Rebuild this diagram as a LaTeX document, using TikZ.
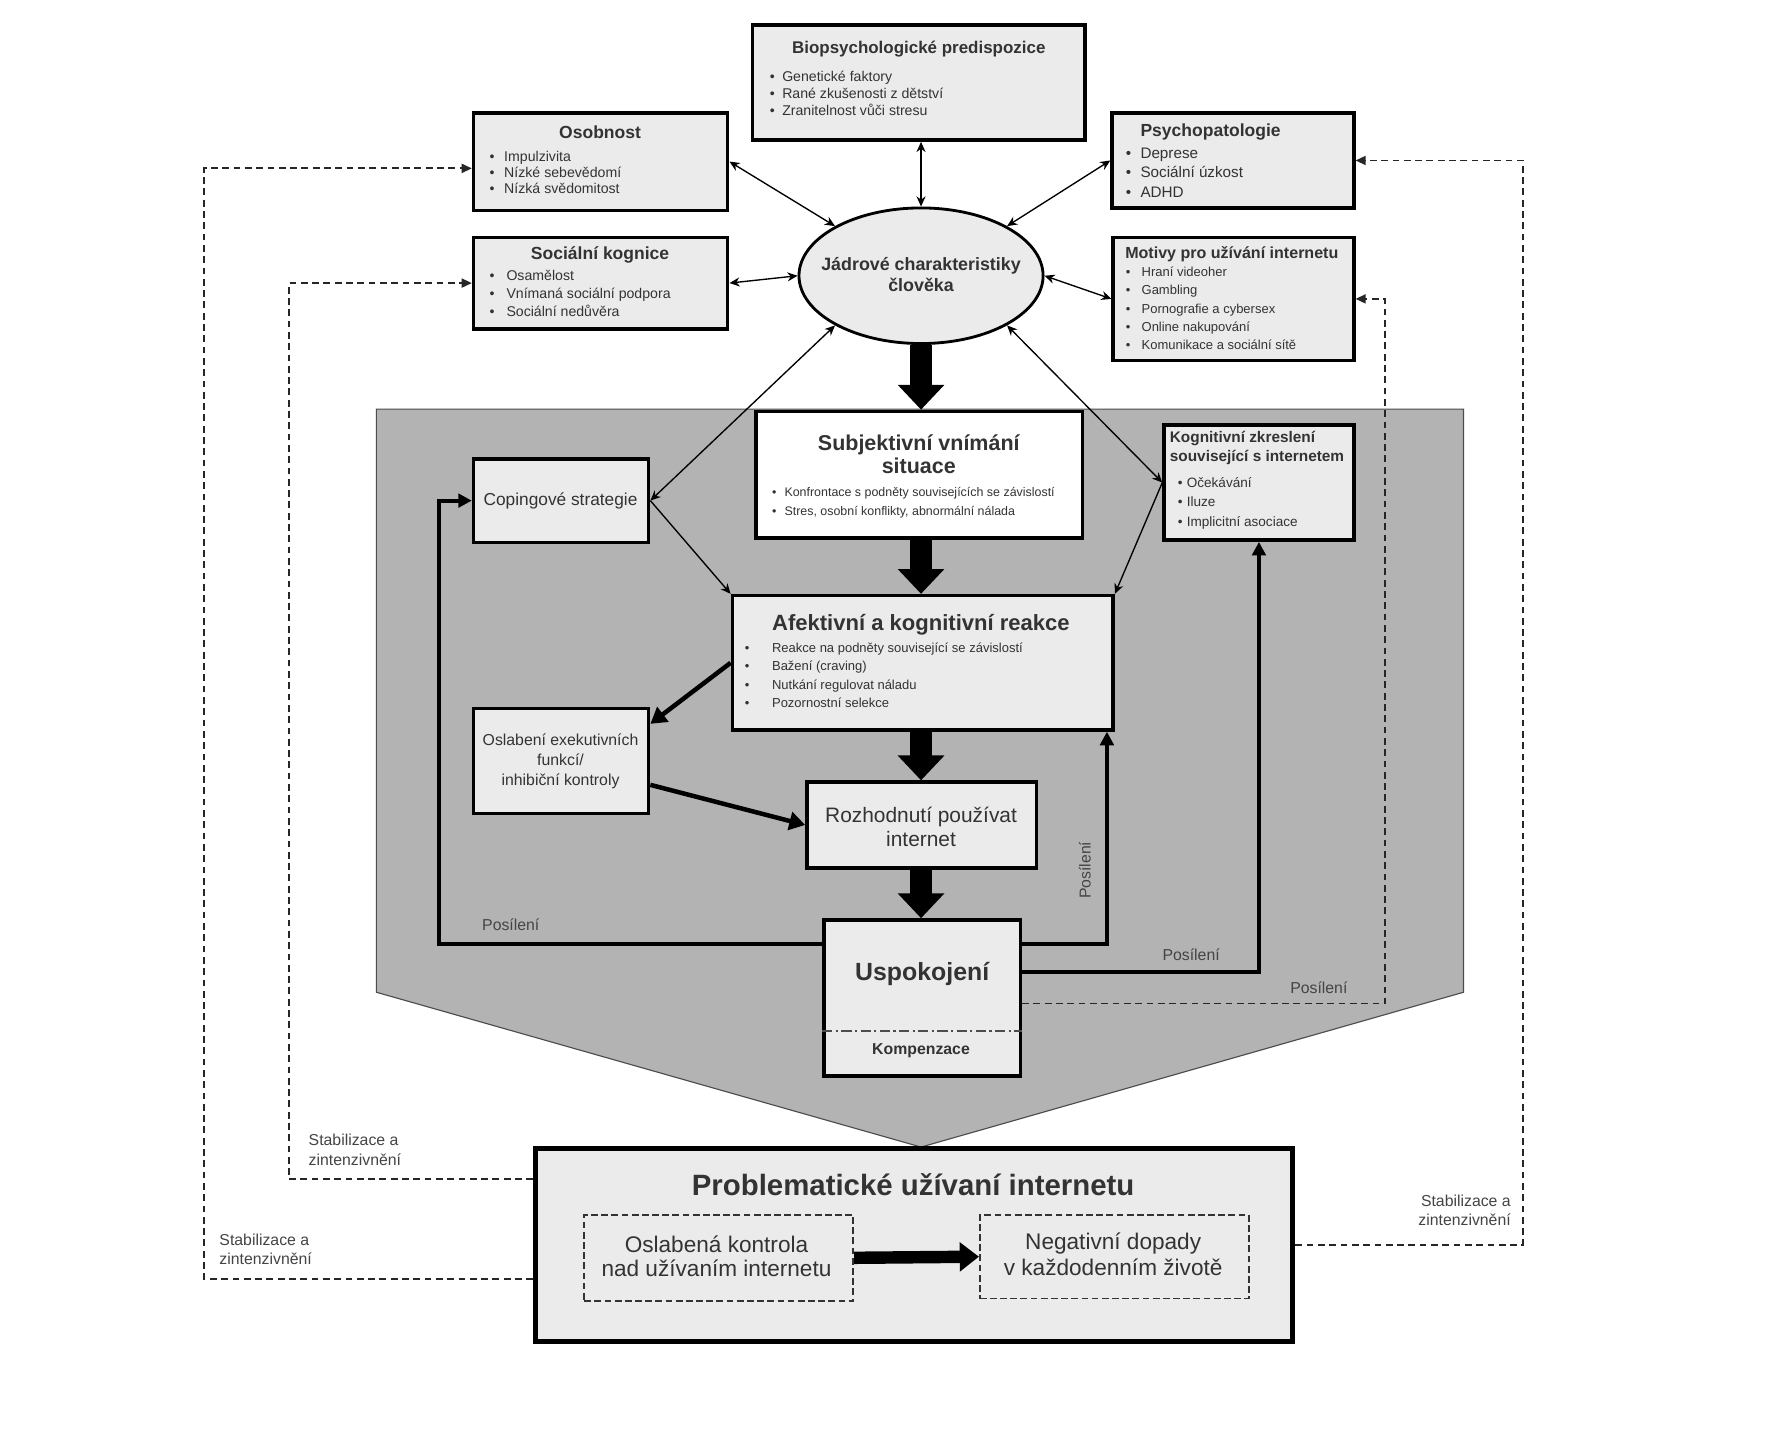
\documentclass[tikz,border=0pt]{standalone}
\usepackage{fontspec}
\setmainfont{Liberation Sans}
\usetikzlibrary{shapes.geometric,arrows.meta}
\definecolor{boxgray}{HTML}{EBEBEB}
\definecolor{pentgray}{HTML}{B3B3B3}
\definecolor{txt}{HTML}{333333}
\definecolor{lbl}{HTML}{444444}
\newcommand\fsz[2]{\fontsize{#1pt}{#2pt}\selectfont}
\newcommand\bul[1]{\makebox[#1pt][l]{•}}
\begin{document}
\begin{tikzpicture}[x=1pt,y=-1pt,
  box/.style={draw=black, line width=3pt, fill=boxgray, inner sep=0pt, rectangle},
  ttl/.style={inner sep=0pt, text=txt},
  itm/.style={anchor=base west, inner sep=0pt, text=txt},
  thintwo/.style={line width=1.2pt, {Stealth[length=9pt,width=8pt]}-{Stealth[length=9pt,width=8pt]}},
  thinone/.style={line width=1.2pt, -{Stealth[length=9pt,width=8pt]}},
  midarr/.style={line width=4pt, -{Triangle[length=14pt,width=16pt]}},
  fatarr/.style={line width=19pt, -{Triangle[length=22pt,width=40pt]}},
  fbarr/.style={line width=3.5pt, -{Triangle[length=12pt,width=12pt]}},
  dsharr/.style={line width=1.6pt, dash pattern=on 6pt off 4pt, draw=black!85, -{Triangle[length=9pt,width=8pt]}},
  lab/.style={inner sep=0pt, text=lbl, font=\fsz{14}{17}},
]
\fill[white] (0,0) rectangle (1568,1265);
\useasboundingbox (0,0) rectangle (1568,1265);

% grey pentagon
\filldraw[fill=pentgray, draw=black!70, line width=1pt] (333,362) -- (1295,362) -- (1295,878) -- (815,1015) -- (333,878) -- cycle;

% Biopsychologicke predispozice
\node[box, minimum width=294pt, minimum height=102pt] (bio) at (813,73) {};
\node[ttl, font=\bfseries\fsz{15}{18}] (biot) at (813,43) {Biopsychologické predispozice};
\foreach \t [count=\i] in {Genetické faktory, Rané zkušenosti z dětství, Zranitelnost vůči stresu}
  \node[itm, font=\fsz{12.5}{15}] (bio\i) at (681,{57+15*\i}) {\bul{11}\t};

% Osobnost
\node[box, minimum width=225pt, minimum height=86pt] (oso) at (531.5,143) {};
\node[ttl, font=\bfseries\fsz{15.5}{18}] (osot) at (531,117) {Osobnost};
\foreach \t [count=\i] in {Impulzivita, Nízké sebevědomí, Nízká svědomitost}
  \node[itm, font=\fsz{12.5}{15}] (oso\i) at (433,{128+14.5*\i}) {\bul{13}\t};

% Socialni kognice
\node[box, minimum width=225pt, minimum height=81pt] (soc) at (531.5,250.5) {};
\node[ttl, font=\bfseries\fsz{15.5}{18}] (soct) at (531,226) {Sociální kognice};
\foreach \t [count=\i] in {Osamělost, Vnímaná sociální podpora, Sociální nedůvěra}
  \node[itm, font=\fsz{12.5}{15}] (soc\i) at (433,{232.5+16*\i}) {\bul{15}\t};

% Psychopatologie
\node[box, minimum width=214pt, minimum height=84pt] (psy) at (1091,142) {};
\node[ttl, anchor=west, font=\bfseries\fsz{15.5}{18}] (psyt) at (1009,117) {Psychopatologie};
\foreach \t [count=\i] in {Deprese, Sociální úzkost, ADHD}
  \node[itm, font=\fsz{13.5}{16}] (psy\i) at (996,{122.5+17.5*\i}) {\bul{13}\t};

% Motivy
\node[box, minimum width=213pt, minimum height=109pt] (mot) at (1091.5,264.5) {};
\node[ttl, font=\bfseries\fsz{14.2}{16}] (mott) at (1090,225) {Motivy pro užívání internetu};
\foreach \t [count=\i] in {Hraní videoher, Gambling, Pornografie a cybersex, Online nakupování, Komunikace a sociální sítě}
  \node[itm, font=\fsz{11.5}{14}] (mot\i) at (996,{229+16*\i}) {\bul{14}\t};

% Ellipse
\node[draw=black, line width=2.5pt, fill=boxgray, ellipse, minimum width=216pt, minimum height=120pt, inner sep=0pt] (ell) at (815,244) {};
\node[ttl, align=center, font=\bfseries\fsz{15.8}{18}] (ellt) at (815,243) {Jádrové charakteristiky\\člověka};

% Subjektivni vnimani
\node[box, fill=white, minimum width=289pt, minimum height=112pt] (subj) at (813.5,420) {};
\node[ttl, align=center, font=\bfseries\fsz{19}{20}] (subjt) at (813,402) {Subjektivní vnímání\\situace};
\foreach \t [count=\i] in {Konfrontace s podněty souvisejících se závislostí, {Stres, osobní konflikty, abnormální nálada}}
  \node[itm, font=\fsz{11}{13}] (subj\i) at (683,{422+17*\i}) {\bul{11}\t};

% Copingove strategie
\node[box, minimum width=155pt, minimum height=74pt] (cop) at (496.5,443) {};
\node[ttl, font=\fsz{15.3}{18}] (copt) at (496,443) {Copingové strategie};

% Kognitivni zkresleni
\node[box, minimum width=168pt, minimum height=102pt] (kog) at (1114,427) {};
\node[ttl, anchor=west, align=left, font=\bfseries\fsz{13.6}{17}] (kogt) at (1035,396.5) {Kognitivní zkreslení\\související s internetem};
\foreach \t [count=\i] in {Očekávání, Iluze, Implicitní asociace}
  \node[itm, font=\fsz{12}{14}] (kog\i) at (1042,{413.5+17.5*\i}) {\bul{8}\t};

% Afektivni a kognitivni reakce
\node[box, minimum width=337pt, minimum height=119pt] (afe) at (816.5,586.5) {};
\node[ttl, anchor=west, font=\bfseries\fsz{19.5}{22}] (afet) at (683,553) {Afektivní a kognitivní reakce};
\foreach \t [count=\i] in {Reakce na podněty související se závislostí, Bažení (craving), Nutkání regulovat náladu, Pozornostní selekce}
  \node[itm, font=\fsz{11.5}{14}] (afe\i) at (659,{561+16.3*\i}) {\bul{24}\t};

% Oslabeni exekutivnich funkci
\node[box, minimum width=155pt, minimum height=93pt] (osl) at (496.5,673.5) {};
\node[ttl, align=center, font=\fsz{14}{17.5}] (oslt) at (496,673.5) {Oslabení exekutivních\\funkcí/\\inhibiční kontroly};

% Rozhodnuti
\node[box, minimum width=203pt, minimum height=76pt] (roz) at (815.5,730) {};
\node[ttl, align=center, font=\fsz{18.5}{21}] (rozt) at (815,731.5) {Rozhodnutí používat\\internet};

% Uspokojeni
\node[box, minimum width=174pt, minimum height=138pt] (usp) at (816,883) {};
\node[ttl, font=\bfseries\fsz{22}{24}] (uspt) at (816,862) {Uspokojení};
\node[ttl, font=\bfseries\fsz{14}{16}] (komp) at (815,930) {Kompenzace};
\draw[line width=1.5pt, black!70, dash pattern=on 9pt off 3pt on 2pt off 3pt] ([yshift=-29pt]usp.west) -- ([yshift=-29pt]usp.east);

% Problematicke uzivani internetu
\node[box, line width=4.5pt, minimum width=670pt, minimum height=171pt] (pro) at (809,1101.5) {};
\node[ttl, font=\bfseries\fsz{26}{28}] (prot) at (808,1048) {Problematické užívaní internetu};
\node[draw=black!80, line width=1.5pt, dash pattern=on 6pt off 3pt, fill=boxgray, inner sep=0pt, minimum width=238pt, minimum height=76pt] (in1) at (636,1113) {};
\node[ttl, align=center, font=\fsz{20}{21}] (in1t) at (634,1111.5) {Oslabená kontrola\\nad užívaním internetu};
\node[draw=black!80, line width=1.5pt, dash pattern=on 6pt off 3pt, fill=boxgray, inner sep=0pt, minimum width=238pt, minimum height=74pt] (in2) at (986,1112) {};
\node[ttl, align=center, font=\fsz{20}{23}] (in2t) at (985,1109.5) {Negativní dopady\\v každodenním životě};
\draw[line width=11pt, -{Triangle[length=17pt,width=25pt]}] (in1.east) -- (in2.west);

% fat arrows
\draw[fatarr] (ell.south) -- (ell.south |- subj.north);
\draw[fatarr] (ell.south |- subj.south) -- (ell.south |- afe.north);
\draw[fatarr] (ell.south |- afe.south) -- (ell.south |- roz.north);
\draw[fatarr] (ell.south |- roz.south) -- (ell.south |- usp.north);

% thin double arrows around the ellipse
\draw[thintwo] (ell.north |- bio.south) -- (ell.north);
\draw[thintwo] (oso.east) -- (ell.150);
\draw[thintwo] (psy.west) -- (ell.30);
\draw[thintwo] (soc.east) -- (ell.west);
\draw[thintwo] (mot.west) -- (ell.east);
\draw[thintwo] (cop.east) -- (ell.210);
\draw[thintwo] (kog.west) -- (ell.330);
\draw[thinone] (cop.east) -- (afe.north west);
\draw[thinone] (kog.west) -- (afe.north east);

% medium arrows
\draw[midarr] (afe.west) -- ([yshift=-15pt]osl.north east);
\draw[midarr] ([yshift=-21pt]osl.east) -- (roz.west);

% feedback loops
\draw[fbarr] ([yshift=48pt]usp.west) -- ++(-339,0) |- (cop.west);
\draw[fbarr] ([yshift=48pt]usp.east) -| ([xshift=-7pt]afe.south east);
\draw[fbarr] ([yshift=23pt]usp.east) -| (kog.south);
\draw[dsharr] ([yshift=-5pt]usp.east) -| ([xshift=26pt]mot.east) -- (mot.east);

% outer dashed loops
\draw[dsharr] ([yshift=58pt]pro.west) -| ([xshift=-162pt]soc.west) -- (soc.west);
\draw[dsharr] ([yshift=-30pt]pro.west) -| ([xshift=-237pt,yshift=-6pt]oso.west) -- ([yshift=-6pt]oso.west);
\draw[dsharr] (pro.east) -| ([xshift=148pt]psy.east) -- (psy.east);

% labels
\node[lab] (p1) at (452,818) {Posílení};
\node[lab, rotate=90] (p2) at (960,770) {Posílení};
\node[lab] (p3) at (1054,845) {Posílení};
\node[lab] (p4) at (1167,874) {Posílení};
\node[lab, anchor=west, align=left] (s1) at (273,1017.5) {Stabilizace a\\zintenzivnění};
\node[lab, anchor=west, align=left] (s2) at (194,1105.5) {Stabilizace a\\zintenzivnění};
\node[lab, anchor=east, align=right] (s3) at (1337,1071) {Stabilizace a\\zintenzivnění};
\end{tikzpicture}
\end{document}
